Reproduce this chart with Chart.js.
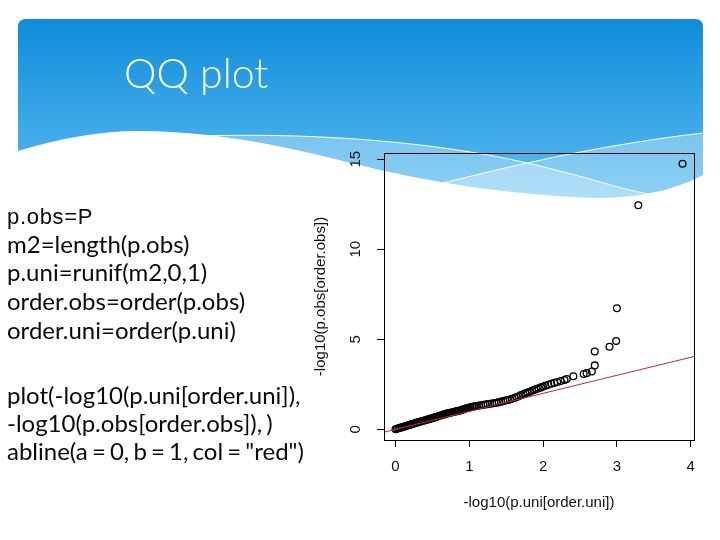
<!DOCTYPE html>
<html>
<head>
<meta charset="utf-8">
<script src="https://cdn.jsdelivr.net/npm/chart.js@4/dist/chart.umd.min.js"></script>
<style>
  html, body { margin: 0; padding: 0; background: #fff; }
  #slide { position: relative; width: 720px; height: 540px; overflow: hidden; }
  #bg { position: absolute; left: 0; top: 0; }
  #qq { position: absolute; left: 0; top: 0; }
  .title { position: absolute; left: 124px; top: 48px; color: #fff; font: 300 41px Lato, "Open Sans", sans-serif; }
  .code { position: absolute; left: 7px; color: #0a0a0a; font: 24px Lato, "Open Sans", sans-serif; white-space: pre; word-spacing: -2px; }
  .code.arial { font: 22px "Liberation Sans", Arial, sans-serif; letter-spacing: 0.7px; }
</style>
</head>
<body>
<div id="slide">
  <svg id="bg" width="720" height="540">
    <defs>
      <linearGradient id="sky" x1="0" y1="19" x2="0" y2="200" gradientUnits="userSpaceOnUse">
        <stop offset="0" stop-color="#0f8cda"/>
        <stop offset="1" stop-color="#5cbdf1"/>
      </linearGradient>
    </defs>
    <path d="M18,210 V27 Q18,19 26,19 H695 Q703,19 703,27 V210 Z" fill="url(#sky)"/>
    <path d="M200,136 C330,132 450,145 527,163 S620,190 660,196 L703,196 L703,260 L200,260 Z" fill="rgba(255,255,255,0.3)"/>
    <path d="M443,183 C480,174 500,169 527,163 C600,147 660,138 703,133 L703,260 L443,260 Z" fill="rgba(255,255,255,0.3)"/>
    <path d="M200,136 C330,132 450,145 527,163 S620,190 660,196" fill="none" stroke="#fff" stroke-width="1"/>
    <path d="M443,183 C480,174 500,169 527,163 C600,147 660,138 703,133" fill="none" stroke="#fff" stroke-width="1"/>
    <path d="M0,153 L18,151 C60,138 100,131 140,131 C230,132 300,150 380,170 C460,188 540,197 600,198 C650,197 680,187 703,175 L720,175 L720,540 L0,540 Z" fill="#fff"/>
  </svg>
  <canvas id="qq" width="720" height="540"></canvas>
  <div class="title">QQ plot</div>
  <div class="code arial" style="top:204px">p.obs=P</div>
  <div class="code" style="top:229px">m2=length(p.obs)</div>
  <div class="code" style="top:257px">p.uni=runif(m2,0,1)</div>
  <div class="code" style="top:286px">order.obs=order(p.obs)</div>
  <div class="code" style="top:315px">order.uni=order(p.uni)</div>
  <div class="code" style="top:380px">plot(-log10(p.uni[order.uni]),</div>
  <div class="code" style="top:408px">-log10(p.obs[order.obs]), )</div>
  <div class="code" style="top:436px">abline(a = 0, b = 1, col = "red")</div>
</div>
<script>
var qqX = [
    0.00, 0.02, 0.04, 0.06, 0.08, 0.10, 0.12, 0.14, 0.16, 0.18,
    0.20, 0.22, 0.24, 0.26, 0.28, 0.30, 0.32, 0.34, 0.36, 0.38,
    0.40, 0.42, 0.44, 0.46, 0.48, 0.50, 0.52, 0.54, 0.56, 0.58,
    0.60, 0.62, 0.64, 0.66, 0.68, 0.70, 0.72, 0.74, 0.76, 0.78,
    0.80, 0.82, 0.84, 0.86, 0.88, 0.90, 0.92, 0.94, 0.96, 0.98,
    1.00, 1.02, 1.04, 1.06, 1.08, 1.10, 1.13, 1.16, 1.19, 1.22,
    1.25, 1.28, 1.31, 1.34, 1.37, 1.40, 1.43, 1.46, 1.49, 1.52,
    1.55, 1.58, 1.61, 1.64, 1.67, 1.70, 1.73, 1.76, 1.79, 1.82,
    1.85, 1.88, 1.91, 1.94, 1.97, 2.00, 2.03, 2.07, 2.11, 2.15,
    2.19, 2.24, 2.29, 2.32, 2.41, 2.55, 2.59, 2.66, 2.70, 2.70,
    2.90, 2.99, 3.00, 3.29, 3.89
];
var qqY = [
    0.01, 0.03, 0.06, 0.08, 0.11, 0.13, 0.16, 0.18, 0.21, 0.24,
    0.26, 0.29, 0.31, 0.34, 0.36, 0.39, 0.41, 0.44, 0.46, 0.48,
    0.51, 0.53, 0.55, 0.58, 0.60, 0.62, 0.65, 0.67, 0.70, 0.73,
    0.76, 0.78, 0.80, 0.83, 0.86, 0.88, 0.90, 0.92, 0.94, 0.96,
    0.98, 1.00, 1.01, 1.03, 1.05, 1.08, 1.11, 1.14, 1.17, 1.19,
    1.21, 1.23, 1.25, 1.27, 1.28, 1.30, 1.32, 1.34, 1.36, 1.38,
    1.40, 1.42, 1.44, 1.46, 1.48, 1.51, 1.54, 1.57, 1.60, 1.63,
    1.66, 1.70, 1.74, 1.79, 1.84, 1.90, 1.95, 2.00, 2.04, 2.09,
    2.14, 2.19, 2.24, 2.28, 2.33, 2.38, 2.42, 2.47, 2.53, 2.58,
    2.63, 2.68, 2.74, 2.79, 2.95, 3.07, 3.12, 3.21, 3.55, 4.32,
    4.59, 4.90, 6.72, 12.44, 14.74
];

// abline(a = 0, b = 1), end points beyond the plot box
var ablineX = [-0.5, 4.5];
var ablineY = [-0.5, 4.5];

var xTicks = [0, 1, 2, 3, 4];
var yTicks = [0, 5, 10, 15];

var xLabel = '-log10(p.uni[order.uni])';
var yLabel = '-log10(p.obs[order.obs])';

var axisFont = '15px "Liberation Sans", Arial, sans-serif';

var points = qqX.map(function (x, i) { return { x: x, y: qqY[i] }; });
var abline = ablineX.map(function (x, i) { return { x: x, y: ablineY[i] }; });

// R draws box() and rotated y labels; do the same here
var rStyle = {
    id: 'rStyle',
    afterDraw: function (chart) {
        var ctx = chart.ctx;
        var a = chart.chartArea;
        var ys = chart.scales.y;
        ctx.save();
        ctx.strokeStyle = '#000';
        ctx.lineWidth = 1;
        ctx.strokeRect(Math.round(a.left) + 0.5, Math.round(a.top) + 0.5,
            Math.round(a.right - a.left), Math.round(a.bottom - a.top));
        ctx.fillStyle = '#111';
        ctx.font = axisFont;
        ctx.textAlign = 'center';
        ctx.textBaseline = 'middle';
        yTicks.forEach(function (v) {
            ctx.save();
            ctx.translate(a.left - 28, ys.getPixelForValue(v));
            ctx.rotate(-Math.PI / 2);
            ctx.fillText(String(v), 0, 0);
            ctx.restore();
        });
        ctx.translate(a.left - 63, (a.top + a.bottom) / 2);
        ctx.rotate(-Math.PI / 2);
        ctx.fillText(yLabel, 0, 0);
        ctx.restore();
    }
};

new Chart(document.getElementById('qq'), {
    type: 'scatter',
    data: {
        datasets: [
            {
                type: 'line',
                data: abline,
                borderColor: '#c8262b',
                borderWidth: 1,
                pointRadius: 0,
                fill: false,
                clip: 0,
                order: 0
            },
            {
                data: points,
                pointStyle: 'circle',
                pointRadius: 3.4,
                borderColor: '#000',
                borderWidth: 1.3,
                backgroundColor: 'rgba(0,0,0,0)',
                order: 1
            }
        ]
    },
    options: {
        responsive: false,
        animation: false,
        events: [],
        layout: { padding: { left: 300, top: 153, right: 26, bottom: 0 } },
        plugins: { legend: { display: false }, tooltip: { enabled: false } },
        scales: {
            x: {
                type: 'linear',
                min: -0.156,
                max: 4.045,
                afterBuildTicks: function (s) { s.ticks = xTicks.map(function (v) { return { value: v }; }); },
                afterFit: function (s) { s.height = 100; },
                border: { display: false },
                grid: { drawOnChartArea: false, color: '#000', tickLength: 7 },
                ticks: { color: '#111', padding: 11, font: { family: '"Liberation Sans", Arial, sans-serif', size: 15 } },
                title: {
                    display: true,
                    text: xLabel,
                    color: '#111',
                    padding: { top: 0, bottom: 28 },
                    font: { family: '"Liberation Sans", Arial, sans-serif', size: 15 }
                }
            },
            y: {
                type: 'linear',
                min: -0.59,
                max: 15.34,
                afterBuildTicks: function (s) { s.ticks = yTicks.map(function (v) { return { value: v }; }); },
                afterFit: function (s) { s.width = 84; },
                border: { display: false },
                grid: { drawOnChartArea: false, color: '#000', tickLength: 7 },
                ticks: { display: false }
            }
        }
    },
    plugins: [rStyle]
});
</script>
</body>
</html>
